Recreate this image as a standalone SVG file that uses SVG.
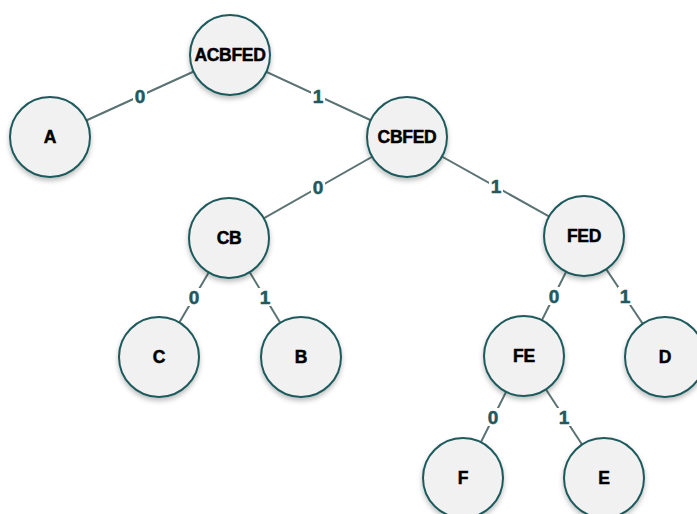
<svg xmlns="http://www.w3.org/2000/svg" width="697" height="514" viewBox="0 0 697 514">
  <defs>
    <filter id="shadow" x="-30%" y="-30%" width="160%" height="170%">
      <feDropShadow dx="0" dy="3" stdDeviation="2.5" flood-color="#000" flood-opacity="0.25"/>
    </filter>
    <style>
      .edge { stroke: #5b7273; stroke-width: 2; fill: none; }
      .node circle { fill: #f1f1f1; stroke: #1f5a5c; stroke-width: 2; filter: url(#shadow); }
      .node text { font-family: "Liberation Sans", Arial, sans-serif; font-weight: bold; font-size: 17.5px; fill: #000; stroke: #000; stroke-width: 0.5; letter-spacing: -0.3px; text-anchor: middle; dominant-baseline: central; }
      .lbl-bg { fill: #ffffff; }
      .lbl { font-family: "Liberation Sans", Arial, sans-serif; font-weight: bold; font-size: 19px; fill: #24585c; stroke: #24585c; stroke-width: 0.5; text-anchor: middle; dominant-baseline: central; }
    </style>
  </defs>
  <rect width="697" height="514" fill="#ffffff"/>

  <!-- connectors with bit labels at midpoints -->
  <g id="connectors">
    <line class="edge" x1="230" y1="55" x2="50" y2="137"/>
    <line class="edge" x1="230" y1="55" x2="407" y2="137"/>
    <line class="edge" x1="407" y1="137" x2="229" y2="238"/>
    <line class="edge" x1="407" y1="137" x2="584" y2="236"/>
    <line class="edge" x1="229" y1="238" x2="159" y2="357"/>
    <line class="edge" x1="229" y1="238" x2="301" y2="357"/>
    <line class="edge" x1="584" y1="236" x2="524" y2="356"/>
    <line class="edge" x1="584" y1="236" x2="665" y2="357"/>
    <line class="edge" x1="524" y1="356" x2="463" y2="478"/>
    <line class="edge" x1="524" y1="356" x2="604" y2="478"/>

    <rect class="lbl-bg" x="133" y="87" width="14" height="18"/>
    <text class="lbl" x="140" y="96">0</text>
    <rect class="lbl-bg" x="311" y="87" width="14" height="18"/>
    <text class="lbl" x="318" y="96">1</text>
    <rect class="lbl-bg" x="311" y="178" width="14" height="18"/>
    <text class="lbl" x="318" y="187">0</text>
    <rect class="lbl-bg" x="489" y="177" width="14" height="18"/>
    <text class="lbl" x="496" y="186">1</text>
    <rect class="lbl-bg" x="187" y="288" width="14" height="18"/>
    <text class="lbl" x="194" y="297">0</text>
    <rect class="lbl-bg" x="258" y="288" width="14" height="18"/>
    <text class="lbl" x="265" y="297">1</text>
    <rect class="lbl-bg" x="547" y="287" width="14" height="18"/>
    <text class="lbl" x="554" y="296">0</text>
    <rect class="lbl-bg" x="618" y="287" width="14" height="18"/>
    <text class="lbl" x="625" y="296">1</text>
    <rect class="lbl-bg" x="486" y="408" width="14" height="18"/>
    <text class="lbl" x="493" y="417">0</text>
    <rect class="lbl-bg" x="557" y="408" width="14" height="18"/>
    <text class="lbl" x="564" y="417">1</text>
  </g>

  <!-- tree nodes -->
  <g id="node-ACBFED" class="node"><circle cx="230" cy="55" r="40"/><text x="230" y="55">ACBFED</text></g>
  <g id="node-A" class="node"><circle cx="50" cy="137" r="40"/><text x="50" y="137">A</text></g>
  <g id="node-CBFED" class="node"><circle cx="407" cy="137" r="40"/><text x="407" y="137">CBFED</text></g>
  <g id="node-CB" class="node"><circle cx="229" cy="238" r="40"/><text x="229" y="238">CB</text></g>
  <g id="node-FED" class="node"><circle cx="584" cy="236" r="40"/><text x="584" y="236">FED</text></g>
  <g id="node-C" class="node"><circle cx="159" cy="357" r="40"/><text x="159" y="357">C</text></g>
  <g id="node-B" class="node"><circle cx="301" cy="357" r="40"/><text x="301" y="357">B</text></g>
  <g id="node-FE" class="node"><circle cx="524" cy="356" r="40"/><text x="524" y="356">FE</text></g>
  <g id="node-D" class="node"><circle cx="665" cy="357" r="40"/><text x="665" y="357">D</text></g>
  <g id="node-F" class="node"><circle cx="463" cy="478" r="40"/><text x="463" y="478">F</text></g>
  <g id="node-E" class="node"><circle cx="604" cy="478" r="40"/><text x="604" y="478">E</text></g>
</svg>
